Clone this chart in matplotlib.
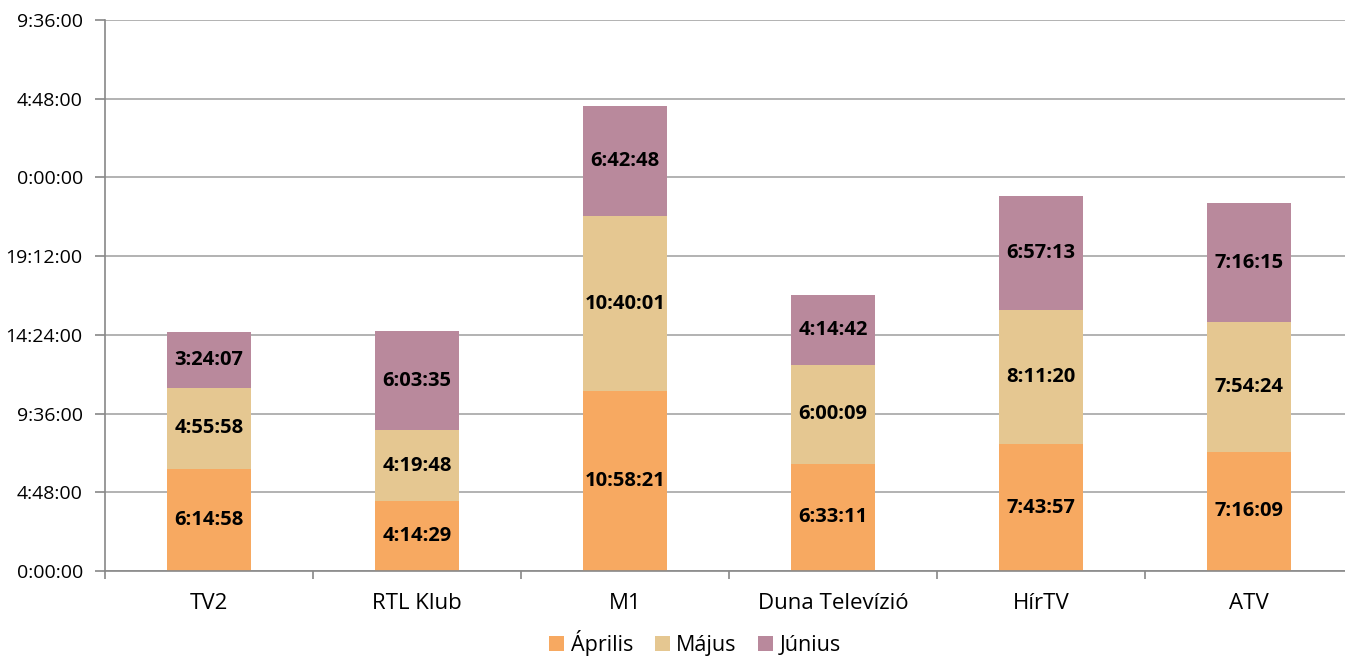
import matplotlib
matplotlib.use("Agg")
import matplotlib.pyplot as plt
import numpy as np

categories = ["TV2", "RTL Klub", "M1", "Duna Televízió", "HírTV", "ATV"]
aprilis = ["6:14:58", "4:14:29", "10:58:21", "6:33:11", "7:43:57", "7:16:09"]
majus = ["4:55:58", "4:19:48", "10:40:01", "6:00:09", "8:11:20", "7:54:24"]
junius = ["3:24:07", "6:03:35", "6:42:48", "4:14:42", "6:57:13", "7:16:15"]
series_names = ["Április", "Május", "Június"]
colors = ["#F7A961", "#E5C791", "#B9899C"]


def to_hours(s):
    h, m, sec = (int(x) for x in s.split(":"))
    return h + m / 60 + sec / 3600


def fmt_tick(v):
    total = int(round(v * 3600)) % (24 * 3600)
    h = total // 3600
    m = (total % 3600) // 60
    s = total % 60
    return f"{h}:{m:02d}:{s:02d}"


plt.rcParams['font.family'] = ['Open Sans', 'DejaVu Sans']

W, H = 1345, 657
fig = plt.figure(figsize=(W / 100, H / 100), dpi=100)
left, right, bottom, top = 105, 1353, 571, 20
ax = fig.add_axes([left / W, (H - bottom) / H, (right - left) / W, (bottom - top) / H])

x = np.arange(len(categories))
bottoms = np.zeros(len(categories))
for name, data, col in zip(series_names, [aprilis, majus, junius], colors):
    vals = np.array([to_hours(s) for s in data])
    ax.bar(x, vals, width=0.4, bottom=bottoms, color=col, label=name, zorder=3)
    for xi, b, v, s in zip(x, bottoms, vals, data):
        ax.text(xi, b + v / 2, s, ha="center", va="center", fontsize=14.5,
                fontweight="bold", color="black", zorder=4)
    bottoms += vals

yticks = np.arange(0, 33.61, 4.8)
ax.set_ylim(0, 33.6)
ax.set_yticks(yticks)
ax.set_yticklabels([fmt_tick(v) for v in yticks], fontsize=14)
ax.set_xlim(-0.5, len(categories) - 0.5)
ax.set_xticks(x)
ax.set_xticklabels(categories, fontsize=16)
ax.set_xticks(np.arange(-0.5, len(categories)), minor=True)
ax.tick_params(axis="x", which="major", length=0, pad=16)
ax.tick_params(axis="x", which="minor", length=6, color="#888888", width=1.2)
ax.tick_params(axis="y", length=7, color="#888888", width=1.2, pad=9)
ax.yaxis.grid(True, color="#A6A6A6", linewidth=1.2, zorder=0)
for sp in ["top", "right"]:
    ax.spines[sp].set_visible(False)
for sp in ["left", "bottom"]:
    ax.spines[sp].set_color("#888888")
    ax.spines[sp].set_linewidth(1.2)
    ax.spines[sp].set_zorder(5)

fig.legend(loc="center", bbox_to_anchor=(695 / W, 14 / H), ncol=3, frameon=False,
           fontsize=15.5, handlelength=0.7, handleheight=0.7, handletextpad=0.3,
           columnspacing=1.0, borderaxespad=0, borderpad=0)

fig.savefig("out.png", dpi=100)
